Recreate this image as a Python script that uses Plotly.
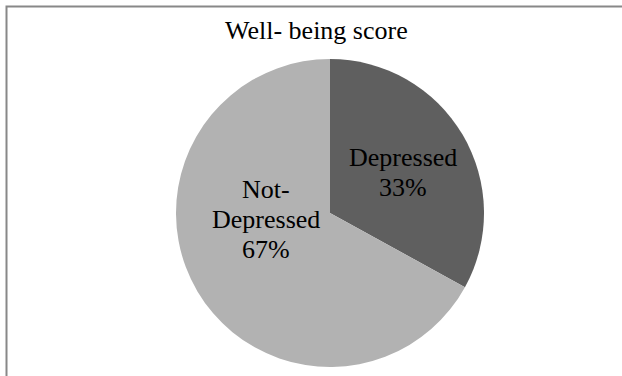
import plotly.graph_objects as go

# Well-being score categories and shares (%)
categories = ["Depressed", "Not-Depressed"]
shares = [33, 67]
label_lines = [["Depressed"], ["Not-", "Depressed"]]
slice_colors = ["#5f5f5f", "#b2b2b2"]

W, H = 622, 376
SERIF = "Times New Roman, Liberation Serif, Tinos, DejaVu Serif, serif"
FS = 26
LINE_H = 30

# first-line baseline and horizontal centre (pixels from top-left) for each slice label
label_px = [(403, 165), (266, 197)]


def text_note(text, px, baseline):
    return dict(
        text=text,
        x=px / W,
        y=1 - (baseline - 8) / H,
        xref="paper",
        yref="paper",
        xanchor="center",
        yanchor="middle",
        showarrow=False,
        font=dict(family=SERIF, size=FS, color="black"),
    )


fig = go.Figure(
    go.Pie(
        labels=categories,
        values=shares,
        sort=False,
        direction="clockwise",
        rotation=0,
        marker=dict(colors=slice_colors, line=dict(width=0)),
        textinfo="none",
        hoverinfo="label+percent",
        showlegend=False,
        domain=dict(x=[176 / W, 484 / W], y=[9 / H, 317 / H]),
    )
)

total = sum(shares)
annotations = [text_note("Well- being score", 316, 39)]
for lines, share, (px, py) in zip(label_lines, shares, label_px):
    rows = lines + [f"{round(100 * share / total)}%"]
    for i, row in enumerate(rows):
        annotations.append(text_note(row, px, py + i * LINE_H))

fig.update_layout(
    width=W,
    height=H,
    margin=dict(l=0, r=0, t=0, b=0),
    paper_bgcolor="white",
    plot_bgcolor="white",
    font=dict(family=SERIF, size=FS, color="black"),
    annotations=annotations,
    shapes=[
        dict(
            type="rect",
            xref="paper",
            yref="paper",
            x0=6.5 / W,
            x1=1.05,
            y0=-0.05,
            y1=1 - 6.5 / H,
            line=dict(color="#888888", width=2),
            fillcolor="rgba(0,0,0,0)",
            layer="below",
        )
    ],
)

fig.write_html("out.html")
